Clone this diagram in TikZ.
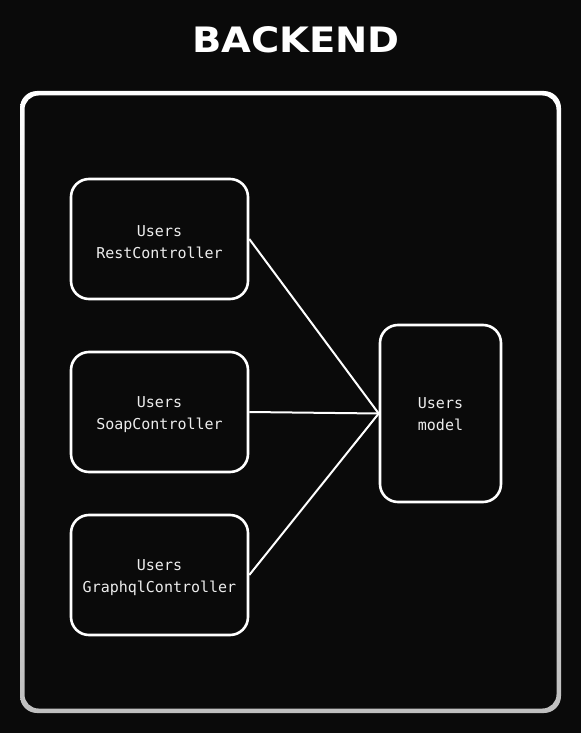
\documentclass[tikz,border=0pt]{standalone}
\usepackage{fontspec}
\setmainfont{DejaVu Sans}
\newfontfamily\monof{DejaVu Sans Mono}
\definecolor{bg}{HTML}{0A0A0A}
\definecolor{txt}{HTML}{EDEDED}
\begin{document}
\begin{tikzpicture}[x=1pt,y=-1pt,
  box/.style={draw=white,line width=2.6pt,rounded corners=18pt,fill=bg,minimum width=177pt,inner sep=0pt,
    font=\monof\fontsize{15}{22}\selectfont,text=txt,align=center},
  lbl/.style={font=\monof\fontsize{15}{22}\selectfont,text=txt,align=center,inner sep=0pt},
  link/.style={draw=white,line width=2pt}]
\fill[bg] (0,0) rectangle (581,733);
\useasboundingbox (0,0) rectangle (581,733);
% outer frame with vertical gradient
\shade[even odd rule,top color=white,bottom color=white!75!black,rounded corners=17pt]
  (20,91) rectangle (561,713) [rounded corners=14pt] (24.5,95.5) rectangle (556.5,708.5);
\node[font=\bfseries\fontsize{35}{35}\selectfont,text=white,xscale=1.1] (title) at (296,40) {BACKEND};
\node[box,minimum height=120pt] (rest) at (159.5,239) {};
\node[box,minimum height=120pt] (soap) at (159.5,412) {};
\node[box,minimum height=120pt] (gql) at (159.5,575) {};
\node[box,minimum width=121pt,minimum height=177pt] (model) at (440.5,413.5) {};
\node[lbl] (restt) at ([yshift=-3pt]rest.center) {Users\\RestController};
\node[lbl] (soapt) at ([yshift=-3pt]soap.center) {Users\\SoapController};
\node[lbl] (gqlt) at ([yshift=-3pt]gql.center) {Users\\GraphqlController};
\node[lbl] (modelt) at ([yshift=-1pt]model.center) {Users\\model};
\draw[link] (rest.east) -- (model.west);
\draw[link] (soap.east) -- (model.west);
\draw[link] (gql.east) -- (model.west);
\end{tikzpicture}
\end{document}
